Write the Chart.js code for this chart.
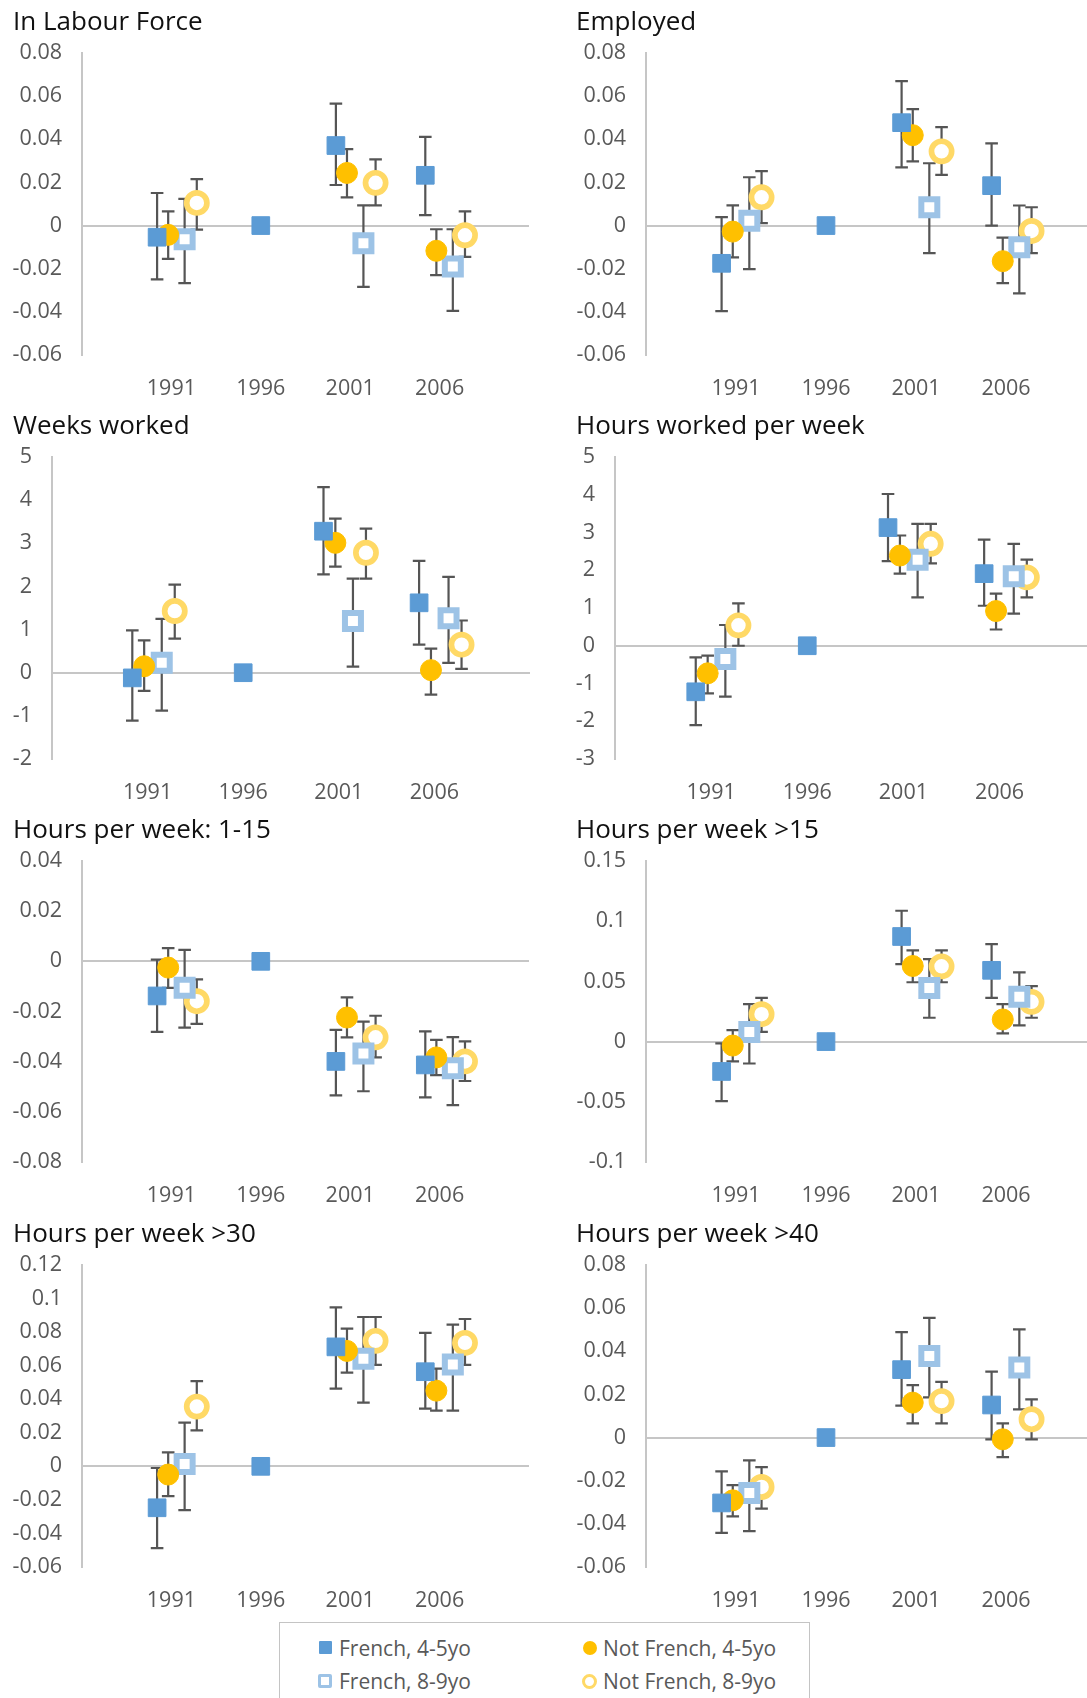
<!DOCTYPE html>
<html>
<head>
<meta charset="utf-8">
<script src="https://cdn.jsdelivr.net/npm/chart.js@4.4.1/dist/chart.umd.min.js"></script>
<style>
  html, body { margin: 0; padding: 0; background: #fff; }
  body { width: 1087px; height: 1698px; position: relative; overflow: hidden; font-family: 'Open Sans', sans-serif; }
  canvas.panel { position: absolute; }
  .legend { position: absolute; left: 279px; top: 1622px; width: 531px; height: 120px; border: 1.5px solid #c4c4c4; box-sizing: border-box; }
  .item { position: absolute; font-size: 21px; color: #595959; line-height: 24px; white-space: nowrap; }
  .mk { position: absolute; box-sizing: border-box; top: 5px; }
</style>
</head>
<body>
<div class="legend">
  <div class="item" style="left:59px; top:13px;"><span class="mk" style="left:-20px; width:13px; height:13px; background:#5b9bd5; border-radius:1px;"></span>French, 4-5yo</div>
  <div class="item" style="left:323px; top:13px;"><span class="mk" style="left:-20px; width:14px; height:14px; background:#ffc000; border-radius:50%;"></span>Not French, 4-5yo</div>
  <div class="item" style="left:59px; top:46px;"><span class="mk" style="left:-21px; width:14px; height:14px; border:3.5px solid #9dc3e6; border-radius:2px; background:#fff;"></span>French, 8-9yo</div>
  <div class="item" style="left:323px; top:46px;"><span class="mk" style="left:-21px; width:15px; height:15px; border:3.5px solid #ffd966; border-radius:50%; background:#fff;"></span>Not French, 8-9yo</div>
</div>
<script>
// categories / x positions (years)
var years = [1991, 1996, 2001, 2006];
var yearLabels = ['1991', '1996', '2001', '2006'];
var xF45 = [1990.2, 1996, 2000.2, 2005.2];
var xNF45 = [1990.82, 2000.82, 2005.82];
var xF89 = [1991.74, 2001.74, 2006.74];
var xNF89 = [1992.42, 2002.42, 2007.42];
var seriesNames = ['French, 4-5yo', 'Not French, 4-5yo', 'French, 8-9yo', 'Not French, 8-9yo'];

// In Labour Force
var lfF45 = [-0.0054, 0, 0.0371, 0.0233], lfF45Lo = [-0.0249, null, 0.0188, 0.0048], lfF45Hi = [0.0151, null, 0.0565, 0.0411];
var lfNF45 = [-0.0043, 0.0244, -0.0117], lfNF45Lo = [-0.0154, 0.0131, -0.023], lfNF45Hi = [0.0066, 0.0354, -0.0017];
var lfF89 = [-0.0063, -0.0082, -0.019], lfF89Lo = [-0.0267, -0.0284, -0.0395], lfF89Hi = [0.0124, 0.0094, -0.0017];
var lfNF89 = [0.0105, 0.0198, -0.0045], lfNF89Lo = [-0.0019, 0.0094, -0.0145], lfNF89Hi = [0.0215, 0.0307, 0.0066];

// Employed
var emF45 = [-0.0175, 0, 0.0477, 0.0185], emF45Lo = [-0.0397, null, 0.027, 0], emF45Hi = [0.0039, null, 0.067, 0.0381];
var emNF45 = [-0.0028, 0.0419, -0.0165], emNF45Lo = [-0.0147, 0.0298, -0.0267], emNF45Hi = [0.0094, 0.054, -0.0056];
var emF89 = [0.0022, 0.0085, -0.01], emF89Lo = [-0.0202, -0.0128, -0.0314], emF89Hi = [0.0224, 0.0289, 0.0093];
var emNF89 = [0.0131, 0.0344, -0.0025], emNF89Lo = [0.0011, 0.0235, -0.0128], emNF89Hi = [0.0252, 0.0456, 0.0085];

// Weeks worked
var wwF45 = [-0.12, 0, 3.28, 1.62], wwF45Lo = [-1.11, null, 2.28, 0.65], wwF45Hi = [0.98, null, 4.3, 2.59];
var wwNF45 = [0.15, 3.01, 0.06], wwNF45Lo = [-0.42, 2.46, -0.51], wwNF45Hi = [0.75, 3.57, 0.56];
var wwF89 = [0.23, 1.2, 1.26], wwF89Lo = [-0.88, 0.14, 0.23], wwF89Hi = [1.25, 2.18, 2.22];
var wwNF89 = [1.43, 2.78, 0.65], wwNF89Lo = [0.79, 2.18, 0.09], wwNF89Hi = [2.04, 3.34, 1.21];

// Hours worked per week
var hwF45 = [-1.22, 0, 3.13, 1.91], hwF45Lo = [-2.1, null, 2.24, 1.06], hwF45Hi = [-0.31, null, 4.02, 2.81];
var hwNF45 = [-0.73, 2.39, 0.92], hwNF45Lo = [-1.26, 1.91, 0.43], hwNF45Hi = [-0.26, 2.92, 1.38];
var hwF89 = [-0.35, 2.28, 1.84], hwF89Lo = [-1.35, 1.28, 0.85], hwF89Hi = [0.55, 3.23, 2.7];
var hwNF89 = [0.54, 2.7, 1.81], hwNF89Lo = [0, 2.18, 1.28], hwNF89Hi = [1.12, 3.23, 2.28];

// Hours per week: 1-15
var h1F45 = [-0.0138, 0, -0.0399, -0.0413], h1F45Lo = [-0.0281, null, -0.0534, -0.0542], h1F45Hi = [0.0007, null, -0.0273, -0.0279];
var h1NF45 = [-0.0025, -0.0224, -0.0383], h1NF45Lo = [-0.0106, -0.0303, -0.0454], h1NF45Hi = [0.0053, -0.0144, -0.0313];
var h1F89 = [-0.0105, -0.0367, -0.0426], h1F89Lo = [-0.0264, -0.0518, -0.0573], h1F89Hi = [0.0046, -0.024, -0.0302];
var h1NF89 = [-0.0159, -0.0303, -0.0399], h1NF89Lo = [-0.0249, -0.0383, -0.0477], h1NF89Hi = [-0.0072, -0.0217, -0.0319];

// Hours per week >15
var h15F45 = [-0.0248, 0, 0.0873, 0.0592], h15F45Lo = [-0.0495, null, 0.0644, 0.0363], h15F45Hi = [-0.0014, null, 0.1087, 0.0809];
var h15NF45 = [-0.0033, 0.0628, 0.0184], h15NF45Lo = [-0.0165, 0.0493, 0.0069], h15NF45Hi = [0.0096, 0.0757, 0.0311];
var h15F89 = [0.008, 0.0446, 0.0372], h15F89Lo = [-0.0182, 0.0198, 0.0135], h15F89Hi = [0.0311, 0.0685, 0.0575];
var h15NF89 = [0.0228, 0.0625, 0.033], h15NF89Lo = [0.008, 0.0493, 0.0198], h15NF89Hi = [0.0363, 0.0757, 0.046];

// Hours per week >30
var h30F45 = [-0.0247, 0, 0.0712, 0.0564], h30F45Lo = [-0.0487, null, 0.0463, 0.0344], h30F45Hi = [-0.001, null, 0.0948, 0.0795];
var h30NF45 = [-0.0049, 0.0688, 0.0451], h30NF45Lo = [-0.0178, 0.0558, 0.0332], h30NF45Hi = [0.0083, 0.0821, 0.0582];
var h30F89 = [0.0014, 0.0641, 0.0607], h30F89Lo = [-0.0261, 0.038, 0.0332], h30F89Hi = [0.0261, 0.089, 0.0845];
var h30NF89 = [0.0356, 0.0748, 0.0736], h30NF89Lo = [0.0214, 0.0605, 0.0605], h30NF89Hi = [0.0508, 0.089, 0.0878];

// Hours per week >40
var h40F45 = [-0.0303, 0, 0.0315, 0.0151], h40F45Lo = [-0.0442, null, 0.0148, -0.0008], h40F45Hi = [-0.0157, null, 0.0489, 0.0306];
var h40NF45 = [-0.0291, 0.0162, -0.0008], h40NF45Lo = [-0.0365, 0.0066, -0.0091], h40NF45Hi = [-0.022, 0.0243, 0.0066];
var h40F89 = [-0.0257, 0.0378, 0.0325], h40F89Lo = [-0.0434, 0.0186, 0.0131], h40F89Hi = [-0.0106, 0.0555, 0.0502];
var h40NF89 = [-0.0229, 0.0169, 0.0085], h40NF89Lo = [-0.0329, 0.0066, -0.0008], h40NF89Hi = [-0.0137, 0.0258, 0.0177];

// y tick values
var ticksLF = [-0.06, -0.04, -0.02, 0, 0.02, 0.04, 0.06, 0.08];
var ticksWW = [-2, -1, 0, 1, 2, 3, 4, 5];
var ticksHW = [-3, -2, -1, 0, 1, 2, 3, 4, 5];
var ticksH1 = [-0.08, -0.06, -0.04, -0.02, 0, 0.02, 0.04];
var ticksH15 = [-0.1, -0.05, 0, 0.05, 0.1, 0.15];
var ticksH30 = [-0.06, -0.04, -0.02, 0, 0.02, 0.04, 0.06, 0.08, 0.1, 0.12];

var panels = [
  {title: 'In Labour Force', ticks: ticksLF, v: [lfF45, lfNF45, lfF89, lfNF89], lo: [lfF45Lo, lfNF45Lo, lfF89Lo, lfNF89Lo], hi: [lfF45Hi, lfNF45Hi, lfF89Hi, lfNF89Hi]},
  {title: 'Employed', ticks: ticksLF, v: [emF45, emNF45, emF89, emNF89], lo: [emF45Lo, emNF45Lo, emF89Lo, emNF89Lo], hi: [emF45Hi, emNF45Hi, emF89Hi, emNF89Hi]},
  {title: 'Weeks worked', ticks: ticksWW, v: [wwF45, wwNF45, wwF89, wwNF89], lo: [wwF45Lo, wwNF45Lo, wwF89Lo, wwNF89Lo], hi: [wwF45Hi, wwNF45Hi, wwF89Hi, wwNF89Hi]},
  {title: 'Hours worked per week', ticks: ticksHW, v: [hwF45, hwNF45, hwF89, hwNF89], lo: [hwF45Lo, hwNF45Lo, hwF89Lo, hwNF89Lo], hi: [hwF45Hi, hwNF45Hi, hwF89Hi, hwNF89Hi]},
  {title: 'Hours per week: 1-15', ticks: ticksH1, v: [h1F45, h1NF45, h1F89, h1NF89], lo: [h1F45Lo, h1NF45Lo, h1F89Lo, h1NF89Lo], hi: [h1F45Hi, h1NF45Hi, h1F89Hi, h1NF89Hi]},
  {title: 'Hours per week >15', ticks: ticksH15, v: [h15F45, h15NF45, h15F89, h15NF89], lo: [h15F45Lo, h15NF45Lo, h15F89Lo, h15NF89Lo], hi: [h15F45Hi, h15NF45Hi, h15F89Hi, h15NF89Hi]},
  {title: 'Hours per week >30', ticks: ticksH30, v: [h30F45, h30NF45, h30F89, h30NF89], lo: [h30F45Lo, h30NF45Lo, h30F89Lo, h30NF89Lo], hi: [h30F45Hi, h30NF45Hi, h30F89Hi, h30NF89Hi]},
  {title: 'Hours per week >40', ticks: ticksLF, v: [h40F45, h40NF45, h40F89, h40NF89], lo: [h40F45Lo, h40NF45Lo, h40F89Lo, h40NF89Lo], hi: [h40F45Hi, h40NF45Hi, h40F89Hi, h40NF89Hi]}
];

// where each panel sits on the page
var boxes = [
  {left: 0, width: 543, padL: 13, plotLeft: 82, plotRight: 529, plotTop: 53, plotBottom: 355, xMax: 2011},
  {left: 543, width: 544, padL: 33, plotLeft: 646, plotRight: 1087, plotTop: 53, plotBottom: 355, xMax: 2010.5},
  {left: 0, width: 543, padL: 13, plotLeft: 52, plotRight: 530, plotTop: 457, plotBottom: 759, xMax: 2011},
  {left: 543, width: 544, padL: 33, plotLeft: 615, plotRight: 1087, plotTop: 457, plotBottom: 759, xMax: 2010.55},
  {left: 0, width: 543, padL: 13, plotLeft: 82, plotRight: 529, plotTop: 861, plotBottom: 1162, xMax: 2011},
  {left: 543, width: 544, padL: 33, plotLeft: 646, plotRight: 1087, plotTop: 861, plotBottom: 1162, xMax: 2010.5},
  {left: 0, width: 543, padL: 13, plotLeft: 82, plotRight: 529, plotTop: 1265, plotBottom: 1567, xMax: 2011},
  {left: 543, width: 544, padL: 33, plotLeft: 646, plotRight: 1087, plotTop: 1265, plotBottom: 1567, xMax: 2010.5}
];

var xs = [xF45, xNF45, xF89, xNF89];
var styles = [
  {pointStyle: 'rect', pointRadius: 12.5, backgroundColor: '#5b9bd5', borderColor: '#5b9bd5', borderWidth: 1},
  {pointStyle: 'circle', pointRadius: 10.5, backgroundColor: '#ffc000', borderColor: '#ffc000', borderWidth: 1},
  {pointStyle: 'rect', pointRadius: 11.3, backgroundColor: '#ffffff', borderColor: '#9dc3e6', borderWidth: 6},
  {pointStyle: 'circle', pointRadius: 10.1, backgroundColor: '#ffffff', borderColor: '#ffd966', borderWidth: 5.7}
];

var errorBars = {
  id: 'errorBars',
  beforeDatasetsDraw: function(chart) {
    var ctx = chart.ctx, sx = chart.scales.x, sy = chart.scales.y;
    ctx.save();
    ctx.strokeStyle = '#555555';
    ctx.lineWidth = 2.2;
    chart.data.datasets.forEach(function(ds) {
      ds.data.forEach(function(p, i) {
        var lo = ds.errLo[i], hi = ds.errHi[i];
        if (lo == null || hi == null) return;
        var x = sx.getPixelForValue(p.x);
        var y1 = sy.getPixelForValue(lo), y2 = sy.getPixelForValue(hi);
        ctx.beginPath();
        ctx.moveTo(x, y1); ctx.lineTo(x, y2);
        ctx.moveTo(x - 6.3, y1); ctx.lineTo(x + 6.3, y1);
        ctx.moveTo(x - 6.3, y2); ctx.lineTo(x + 6.3, y2);
        ctx.stroke();
      });
    });
    ctx.restore();
  }
};

var FONT = "'Open Sans', sans-serif";

panels.forEach(function(panel, k) {
  var b = boxes[k];
  var top = b.plotTop - 53;
  var height = b.plotBottom - b.plotTop + 98;
  var canvas = document.createElement('canvas');
  canvas.className = 'panel';
  canvas.width = b.width;
  canvas.height = height;
  canvas.style.left = b.left + 'px';
  canvas.style.top = top + 'px';
  canvas.style.width = b.width + 'px';
  canvas.style.height = height + 'px';
  document.body.appendChild(canvas);

  var yW = b.plotLeft - b.left - b.padL;
  var padR = b.left + b.width - b.plotRight;

  var datasets = panel.v.map(function(vals, s) {
    var st = styles[s];
    return {
      label: seriesNames[s],
      data: vals.map(function(v, i) { return {x: xs[s][i], y: v}; }),
      errLo: panel.lo[s],
      errHi: panel.hi[s],
      showLine: false,
      clip: false,
      pointStyle: st.pointStyle,
      pointRadius: st.pointRadius,
      pointHoverRadius: st.pointRadius,
      pointBackgroundColor: st.backgroundColor,
      pointBorderColor: st.borderColor,
      pointBorderWidth: st.borderWidth,
      pointHoverBorderWidth: st.borderWidth
    };
  });

  new Chart(canvas.getContext('2d'), {
    type: 'scatter',
    data: {datasets: datasets},
    plugins: [errorBars],
    options: {
      responsive: false,
      animation: false,
      devicePixelRatio: 1,
      events: [],
      layout: {autoPadding: false, padding: {left: b.padL, right: padR, top: 0, bottom: 0}},
      plugins: {
        legend: {display: false},
        tooltip: {enabled: false},
        title: {
          display: true,
          text: panel.title,
          align: 'start',
          color: '#111111',
          font: {family: FONT, size: 26, weight: 'normal'},
          padding: {top: 7, bottom: 14.8}
        }
      },
      scales: {
        x: {
          type: 'linear',
          min: 1986,
          max: b.xMax,
          afterBuildTicks: function(axis) { axis.ticks = years.map(function(y) { return {value: y}; }); },
          afterFit: function(axis) { axis.height = 45; },
          ticks: {
            autoSkip: false,
            maxRotation: 0,
            padding: 21,
            color: '#595959',
            font: {family: FONT, size: 21.5},
            callback: function(value) { return yearLabels[years.indexOf(value)]; }
          },
          grid: {display: false, drawTicks: false},
          border: {display: false}
        },
        y: {
          min: panel.ticks[0],
          max: panel.ticks[panel.ticks.length - 1],
          afterBuildTicks: function(axis) { axis.ticks = panel.ticks.map(function(t) { return {value: t}; }); },
          afterFit: function(axis) { axis.width = yW; },
          ticks: {
            padding: 20,
            color: '#595959',
            font: {family: FONT, size: 21.5},
            callback: function(value) { return String(value); }
          },
          grid: {
            drawTicks: false,
            lineWidth: 2,
            color: function(c) { return c.tick && c.tick.value === 0 ? '#c6c6c6' : 'rgba(0,0,0,0)'; }
          },
          border: {display: true, color: '#c6c6c6', width: 2}
        }
      }
    }
  });
});
</script>
</body>
</html>
